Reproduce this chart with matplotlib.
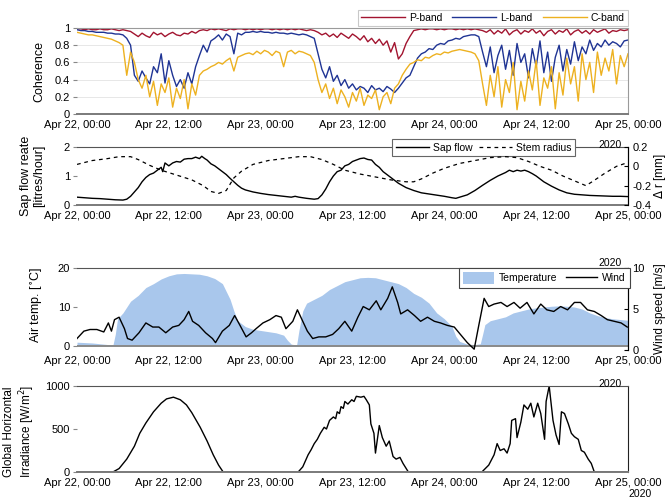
"""Coherence, sap flow, temperature/wind and irradiance, Apr 22-25 2020."""

import matplotlib
matplotlib.use("Agg")
import matplotlib.pyplot as plt
import matplotlib.dates as mdates
from matplotlib.patches import Patch
import numpy as np
import pandas as pd

plt.rcParams["font.family"] = ["Liberation Sans", "DejaVu Sans"]
plt.rcParams["font.size"] = 8

BASE = pd.Timestamp("2020-04-22 00:00")

# ─── data ───────────────────────────────────────────────────────────────────

# coherence, one value every half hour from 00:00 Apr 22 to 00:00 Apr 25
p_band = [
    0.99, 0.99, 0.98, 0.99, 0.98, 0.98, 0.99, 0.98, 0.98, 0.99, 0.98, 0.97, 0.98, 0.97, 0.96,
    0.93, 0.90, 0.94, 0.91, 0.89, 0.95, 0.92, 0.94, 0.90, 0.93, 0.95, 0.92, 0.91, 0.94, 0.93, 0.96, 0.94, 0.97,
    0.98, 0.97, 0.99, 0.98, 0.99, 0.98, 0.97, 0.99, 0.98, 0.99, 0.99, 0.98, 0.99, 0.98, 0.99,
    0.98, 0.99, 0.99, 0.98, 0.99, 0.98, 0.99, 0.98, 0.99, 0.98, 0.99, 0.98, 0.97, 0.98, 0.97,
    0.95, 0.92, 0.94, 0.90, 0.93, 0.89, 0.94, 0.91, 0.88, 0.93, 0.90, 0.86, 0.91, 0.84, 0.88,
    0.82, 0.87, 0.80, 0.85, 0.72, 0.83, 0.64, 0.70, 0.82, 0.90, 0.97,
    0.98, 0.99, 0.98, 0.99, 0.99, 0.98, 0.99, 0.98, 0.99, 0.99, 0.98, 0.99, 0.98, 0.99, 0.98, 0.99, 0.98, 0.97,
    0.95, 0.98, 0.93, 0.97, 0.94, 0.99, 0.92, 0.96, 0.98, 0.93, 0.97, 0.95, 0.99, 0.94, 0.97, 0.91, 0.96,
    0.98, 0.93, 0.97, 0.95, 0.99, 0.92, 0.96, 0.98, 0.94, 0.97, 0.93, 0.98, 0.95, 0.97, 0.99, 0.94, 0.97,
    0.96, 0.98, 0.97, 0.98,
]
l_band = [
    0.98, 0.97, 0.97, 0.96, 0.96, 0.95, 0.95, 0.95, 0.94, 0.94, 0.93, 0.93, 0.92,
    0.88, 0.80, 0.45, 0.38, 0.50, 0.42, 0.35, 0.55, 0.48, 0.70, 0.36, 0.62, 0.45, 0.32, 0.40, 0.30, 0.48,
    0.35, 0.55, 0.68, 0.80,
    0.72, 0.85, 0.88, 0.92, 0.86, 0.93, 0.90, 0.70, 0.94, 0.92, 0.95,
    0.95, 0.96, 0.95, 0.96, 0.95, 0.95, 0.94, 0.95, 0.94, 0.94, 0.93, 0.94, 0.93, 0.92, 0.93, 0.92, 0.90, 0.88,
    0.70, 0.52, 0.42, 0.55, 0.38, 0.45, 0.33, 0.40, 0.30, 0.35, 0.28, 0.32, 0.30, 0.25, 0.33, 0.28, 0.30,
    0.26, 0.32, 0.29, 0.25, 0.30, 0.36, 0.42, 0.45,
    0.55, 0.65, 0.70, 0.72, 0.76, 0.75, 0.80, 0.82, 0.81, 0.85, 0.86, 0.88, 0.87, 0.90, 0.91, 0.92, 0.92, 0.90,
    0.72, 0.55, 0.78, 0.48, 0.68, 0.80, 0.52, 0.74, 0.45, 0.82, 0.60, 0.70, 0.42, 0.76, 0.55, 0.85, 0.48,
    0.72, 0.38, 0.66, 0.80, 0.50, 0.75, 0.58, 0.84, 0.62, 0.78, 0.70, 0.86, 0.74, 0.82, 0.78, 0.86, 0.80,
    0.84, 0.82, 0.78, 0.85, 0.86,
]
c_band = [
    0.95, 0.94, 0.93, 0.92, 0.92, 0.91, 0.90, 0.89, 0.88, 0.87, 0.85, 0.83, 0.80,
    0.45, 0.72, 0.60, 0.40, 0.30, 0.45, 0.20, 0.38, 0.10, 0.35, 0.25, 0.42, 0.08, 0.30, 0.18, 0.40, 0.06,
    0.35, 0.22, 0.45, 0.50,
    0.52, 0.55, 0.57, 0.60, 0.58, 0.62, 0.65, 0.50, 0.66, 0.68, 0.70,
    0.71, 0.69, 0.73, 0.70, 0.74, 0.72, 0.68, 0.73, 0.71, 0.55, 0.72, 0.74, 0.70, 0.73, 0.72, 0.70, 0.68, 0.60,
    0.40, 0.25, 0.35, 0.18, 0.30, 0.12, 0.28, 0.20, 0.08, 0.25, 0.15, 0.30, 0.10, 0.22, 0.18, 0.28, 0.05,
    0.20, 0.25, 0.12, 0.30, 0.35, 0.45, 0.52, 0.58,
    0.60, 0.63, 0.62, 0.66, 0.65, 0.68, 0.70, 0.69, 0.72, 0.71, 0.73, 0.74, 0.75, 0.74, 0.73, 0.72, 0.70, 0.62,
    0.35, 0.10, 0.45, 0.20, 0.55, 0.08, 0.40, 0.25, 0.60, 0.05, 0.38, 0.15, 0.50, 0.28, 0.62, 0.10, 0.42,
    0.30, 0.55, 0.06, 0.48, 0.22, 0.65, 0.35, 0.55, 0.15, 0.70, 0.40, 0.60, 0.25, 0.72, 0.45, 0.65, 0.50,
    0.75, 0.35, 0.68, 0.55, 0.70,
]

# sap flow [litres/hour] and stem radius change [mm], hours since Apr 22 00:00
sap_h = [0, 1, 2, 3, 4, 5, 6, 6.5, 7, 7.5, 8, 8.5, 9, 9.5, 10, 10.5, 11, 11.2, 11.5, 12, 12.5, 13,
         13.5, 14, 14.5, 15, 15.5, 16, 16.3, 16.7, 17, 17.5, 18, 18.5, 19, 19.5, 20, 20.5, 21, 21.5,
         22, 23, 24, 25, 26, 27, 28, 28.5, 29, 30, 31, 31.5, 32, 32.5, 33, 33.5, 34, 34.5, 35, 35.5,
         36, 36.5, 37, 37.5, 38, 38.5, 39, 39.5, 40, 40.5, 41, 41.5, 42, 43, 44, 45, 46, 47, 48, 49,
         49.5, 50, 51, 52, 53, 54, 55, 56, 56.5, 57, 57.5, 58, 58.5, 59, 59.5, 60, 60.5, 61, 62, 63,
         64, 65, 66, 67, 68, 69, 70, 71, 72]
sap_flow = [0.27, 0.25, 0.23, 0.22, 0.20, 0.18, 0.17, 0.20, 0.30, 0.45, 0.60, 0.80, 0.95, 1.05, 1.10,
            1.20, 1.30, 1.15, 1.45, 1.35, 1.45, 1.50, 1.48, 1.58, 1.60, 1.60, 1.65, 1.60, 1.68, 1.60,
            1.55, 1.42, 1.35, 1.25, 1.15, 1.05, 0.92, 0.80, 0.68, 0.58, 0.52, 0.45, 0.40, 0.36, 0.33,
            0.30, 0.27, 0.30, 0.27, 0.23, 0.20, 0.22, 0.35, 0.55, 0.80, 1.00, 1.15, 1.20, 1.35, 1.40,
            1.50, 1.55, 1.60, 1.62, 1.57, 1.55, 1.40, 1.30, 1.15, 1.05, 0.95, 0.85, 0.75, 0.60, 0.50,
            0.42, 0.38, 0.34, 0.30, 0.25, 0.23, 0.27, 0.35, 0.50, 0.68, 0.85, 1.00, 1.12, 1.20, 1.15,
            1.20, 1.17, 1.20, 1.15, 1.08, 1.00, 0.90, 0.80, 0.65, 0.52, 0.42, 0.37, 0.35, 0.33, 0.32,
            0.31, 0.30, 0.30, 0.29]
stem_h = [0, 2, 4, 5.5, 7, 8, 9.5, 11, 13, 15, 16.5, 17.5, 18.5, 19.5, 20.5, 21.5, 23, 25, 27, 29,
          30.5, 32, 33.5, 35, 37, 39, 41, 43, 44, 45, 46.5, 48, 50, 52, 54, 56, 57.5, 59, 60.5, 62,
          63.5, 65, 66.5, 67.5, 69, 70.5, 72]
stem_radius = [0.02, 0.06, 0.08, 0.10, 0.10, 0.07, 0.01, -0.04, -0.09, -0.14, -0.20, -0.26, -0.28,
               -0.25, -0.12, -0.05, 0.02, 0.06, 0.08, 0.10, 0.10, 0.07, 0.02, -0.04, -0.08, -0.11,
               -0.14, -0.16, -0.16, -0.13, -0.07, -0.02, 0.03, 0.06, 0.09, 0.10, 0.09, 0.05, 0.00,
               -0.04, -0.10, -0.15, -0.20, -0.15, -0.07, 0.00, 0.04]

# air temperature [C] and wind speed [m/s]
temp_h = [0, 2, 4, 4.7, 5.0, 5.3, 6, 6.5, 7, 8, 9, 10, 11, 12, 13, 14, 15, 16, 17, 18, 19, 19.5, 20,
          20.5, 21, 22, 23, 24, 25, 26, 27, 27.5, 28, 28.7, 29, 29.5, 30, 31, 32, 33, 34, 35, 36, 37,
          38, 39, 40, 41, 42, 43, 44, 45, 46, 47, 48, 49, 49.5, 50, 51, 52, 52.7, 53, 53.3, 54, 55,
          56, 57, 58, 59, 60, 61, 62, 63, 64, 65, 66, 67, 68, 69, 70, 71, 72]
air_temp = [1.0, 0.8, 0.4, 0.3, 3.0, 7.0, 8.5, 10.0, 11.5, 13.0, 15.0, 16.0, 17.2, 18.0, 18.5, 18.6,
            18.5, 18.4, 18.0, 17.3, 16.0, 14.0, 12.0, 9.0, 6.5, 5.0, 4.3, 4.0, 3.7, 3.4, 2.8, 1.5, 0.5,
            0.3, 4.0, 9.0, 11.0, 12.0, 13.0, 14.5, 15.5, 16.5, 17.0, 17.5, 17.6, 17.5, 17.0, 16.5,
            16.0, 15.0, 13.5, 12.5, 11.0, 8.5, 7.0, 5.0, 2.5, 1.2, 0.5, 0.4, 0.6, 3.0, 5.5, 6.5, 7.0,
            7.5, 8.5, 9.0, 9.5, 9.8, 10.0, 10.2, 10.3, 10.2, 10.0, 9.5, 8.5, 7.8, 7.3, 7.0, 6.8, 6.6]
wind_h = [0.0, 0.9, 1.7, 2.6, 3.5, 4.1, 4.5, 4.9, 5.5, 6.2, 6.6, 7.2, 8.1, 9.0, 9.9, 10.7, 11.6, 12.5,
          13.3, 14.0, 14.6, 15.1, 15.9, 16.8, 17.7, 18.1, 19.0, 19.9, 20.6, 21.3, 22.1, 22.8, 23.4,
          24.3, 25.2, 26.0, 26.7, 27.3, 28.2, 28.8, 29.5, 30.1, 30.8, 31.6, 32.5, 33.4, 34.2, 35.0,
          35.9, 36.7, 37.4, 38.2, 39.1, 39.7, 40.6, 41.2, 41.9, 42.3, 43.2, 44.1, 44.9, 45.8, 46.7,
          47.5, 48.4, 49.3, 50.1, 51.0, 51.9, 52.5, 53.2, 53.8, 54.5, 55.4, 56.2, 57.1, 57.9, 58.8,
          59.7, 60.6, 61.4, 62.3, 63.2, 64.1, 65.0, 65.8, 66.7, 67.6, 68.5, 69.3, 70.2, 71.1, 71.9]
wind = [1.4, 2.3, 2.5, 2.5, 2.2, 3.3, 2.3, 3.7, 4.0, 2.6, 1.4, 1.2, 2.1, 3.3, 2.8, 2.8, 2.1, 2.8,
        3.0, 3.7, 4.7, 3.5, 3.0, 2.1, 1.4, 0.9, 2.3, 3.0, 4.2, 3.0, 1.6, 2.1, 2.6, 3.3, 3.7, 4.2,
        4.0, 2.6, 3.5, 4.9, 3.5, 2.3, 1.4, 1.6, 1.6, 1.9, 2.6, 3.5, 2.3, 4.0, 5.3, 4.9, 6.0, 4.9,
        6.3, 7.7, 5.8, 4.4, 4.9, 4.2, 3.5, 4.0, 3.5, 3.3, 3.0, 2.8, 1.9, 0.9, 0.1, 3.0, 6.3, 5.3,
        5.6, 5.8, 5.3, 5.8, 5.1, 5.8, 4.4, 5.6, 4.9, 4.7, 5.3, 4.9, 5.8, 5.8, 4.9, 4.7, 4.2, 3.7,
        3.5, 3.3, 2.8]

# global horizontal irradiance [W/m2]
ghi_h = [0, 4.7, 5.5, 6.5, 7.5, 8.2, 9, 10, 11, 11.7, 12.6, 13.5, 14.3, 15, 16.1, 17, 17.8, 18.5,
         19.1, 28.9, 29.5, 30.2, 30.6, 31, 31.4, 31.8, 32.3, 32.6, 33, 33.5, 33.8, 34, 34.3, 34.5,
         34.8, 35, 35.4, 35.9, 36.2, 36.5, 37.1, 37.5, 37.8, 38.2, 38.4, 38.8, 39.0, 39.5, 39.9,
         40.4, 40.8, 41.3, 41.7, 42.2, 42.6, 43.3, 52.9, 53.8, 54.5, 54.9, 55.3, 55.8, 56.2, 56.6,
         56.8, 57.3, 57.5, 58.0, 58.4, 58.9, 59.3, 59.7, 60.2, 60.6, 61.1, 61.3, 61.7, 62.2, 62.6,
         63.0, 63.3, 63.7, 64.2, 64.6, 65.0, 65.5, 65.9, 66.3, 66.8, 67.2, 67.6, 72]
ghi = [0, 0, 40, 150, 300, 450, 570, 700, 800, 850, 870, 840, 780, 690, 520, 360, 200, 80,
       0, 0, 60, 200, 260, 330, 380, 450, 520, 500, 600, 640, 620, 700, 680, 760,
       740, 820, 790, 840, 820, 880, 870, 880, 840, 780, 560, 450, 220, 540, 400,
       300, 360, 180, 150, 170, 100, 0, 0, 80, 200, 330, 250, 270, 220, 330,
       600, 620, 400, 580, 780, 730, 800, 640, 800, 680, 380, 820, 1000, 600, 430,
       320, 700, 680, 560, 450, 410, 380, 250, 230, 150, 100, 0, 0]


def _t(hours):
    return BASE + pd.to_timedelta(np.asarray(hours, dtype=float), unit="h")


def _style(ax, top_color="#555555"):
    ax.spines["left"].set_visible(False)
    ax.spines["top"].set_color(top_color)
    ax.spines["bottom"].set_color("#7a7a7a")
    ax.spines["bottom"].set_linewidth(1.4)
    ax.spines["right"].set_color("#222222")
    ax.set_xlim(_t([0])[0], _t([72])[0])
    ax.xaxis.set_major_locator(mdates.HourLocator(byhour=[0, 12]))
    ax.xaxis.set_major_formatter(mdates.DateFormatter("%b %d, %H:%M"))
    ax.tick_params(axis="x", length=0, pad=4, labelsize=8)
    ax.tick_params(axis="y", direction="out", length=3, color="#888888", labelsize=8, pad=2)


fig = plt.figure(figsize=(6.71, 4.99), dpi=100)
W, H = 671, 499


def _axes(top, bottom):
    return fig.add_axes([77 / W, 1 - bottom / H, 551 / W, (bottom - top) / H])


# ─── panel 1: coherence ─────────────────────────────────────────────────────
ax1 = _axes(28, 114)
t_half = _t(np.arange(len(p_band)) * 0.5)
ax1.plot(t_half, p_band, color="#a2142f", lw=1.0, label="P-band")
ax1.plot(t_half, l_band, color="#1f3494", lw=1.0, label="L-band")
ax1.plot(t_half, c_band, color="#edb120", lw=1.0, label="C-band")
ax1.set_ylim(0, 1)
ax1.set_yticks([0, 0.2, 0.4, 0.6, 0.8, 1])
ax1.set_yticklabels(["0", "0.2", "0.4", "0.6", "0.8", "1"])
ax1.grid(axis="y", color="#e3e3e3", lw=0.6)
ax1.set_axisbelow(True)
_style(ax1, top_color="#9a9a9a")
ax1.spines["right"].set_color("#9a9a9a")
ax1.set_ylabel("Coherence", fontsize=9)
ax1.yaxis.set_label_coords(-0.058, 0.5)
leg = ax1.legend(ncol=3, loc="lower right", bbox_to_anchor=(1.004, 1.0), frameon=True,
                 fancybox=False, edgecolor="#bbbbbb", fontsize=7.5, handlelength=4.2,
                 columnspacing=1.0, handletextpad=0.4, borderpad=0.3, borderaxespad=0.2)
leg.get_frame().set_linewidth(0.8)

# ─── panel 2: sap flow / stem radius ────────────────────────────────────────
ax2 = _axes(147, 205)
l1, = ax2.plot(_t(sap_h), sap_flow, color="black", lw=1.0, label="Sap flow")
ax2.set_ylim(0, 2)
ax2.set_yticks([0, 1, 2])
_style(ax2)
ax2.set_ylabel("Sap flow reate\n[litres/hour]", fontsize=9, linespacing=1.1)
ax2.yaxis.set_label_coords(-0.058, 0.5)
ax2r = ax2.twinx()
l2, = ax2r.plot(_t(stem_h), stem_radius, color="black", lw=0.9, ls=(0, (3, 3)), label="Stem radius")
ax2r.set_ylim(-0.4, 0.2)
ax2r.set_yticks([-0.4, -0.2, 0, 0.2])
ax2r.set_yticklabels(["-0.4", "-0.2", "0", "0.2"])
for s in ["left", "top", "bottom"]:
    ax2r.spines[s].set_visible(False)
ax2r.tick_params(axis="y", direction="in", length=3, labelsize=8, pad=3)
ax2r.set_ylabel(r"$\Delta$ r [mm]", fontsize=8.5)
ax2r.yaxis.set_label_coords(1.044, 0.5)
leg = ax2.legend([l1, l2], ["Sap flow", "Stem radius"], ncol=2, loc="upper right",
                 bbox_to_anchor=(0.904, 1.13), frameon=True, fancybox=False, edgecolor="#666666",
                 fontsize=7.5, handlelength=3.2, columnspacing=0.6, handletextpad=0.4,
                 borderpad=0.3, borderaxespad=0.0, framealpha=1)
leg.get_frame().set_linewidth(0.8)

# ─── panel 3: temperature / wind ────────────────────────────────────────────
ax3 = _axes(268, 350)
ax3.fill_between(_t(temp_h), 0, air_temp, color="#a9c7ec", lw=0, zorder=1)
ax3.axhline(0, color="#8a8a8a", lw=1.4, zorder=2)
ax3.set_ylim(-1, 20)
ax3.set_yticks([0, 10, 20])
_style(ax3)
ax3.spines["bottom"].set_visible(False)
ax3.set_ylabel(r"Air temp. [$^{\circ}$C]", fontsize=9)
ax3.yaxis.set_label_coords(-0.058, 0.55)
ax3r = ax3.twinx()
ax3r.plot(_t(wind_h), wind, color="black", lw=1.0, zorder=3)
ax3r.set_ylim(0, 10)
ax3r.set_yticks([0, 5, 10])
for s in ["left", "top", "bottom"]:
    ax3r.spines[s].set_visible(False)
ax3r.tick_params(axis="y", direction="in", length=3, labelsize=8, pad=3)
ax3r.set_ylabel("Wind speed [m/s]", fontsize=8.5)
ax3r.yaxis.set_label_coords(1.048, 0.5)
handles = [Patch(facecolor="#a9c7ec", edgecolor="none"),
           plt.Line2D([], [], color="black", lw=1.0)]
leg = ax3r.legend(handles, ["Temperature", "Wind"], ncol=2, loc="upper right",
                  bbox_to_anchor=(1.003, 1.0), frameon=True, fancybox=False, edgecolor="#444444",
                  fontsize=7.5, handlelength=3.0, handleheight=1.5, columnspacing=0.8,
                  handletextpad=0.5, borderpad=0.35, borderaxespad=0.0, framealpha=1)
leg.get_frame().set_linewidth(0.8)

# ─── panel 4: irradiance ────────────────────────────────────────────────────
ax4 = _axes(386, 472)
ax4.plot(_t(ghi_h), ghi, color="black", lw=1.0)
ax4.set_ylim(0, 1000)
ax4.set_yticks([0, 500, 1000])
_style(ax4)
ax4.spines["right"].set_visible(True)
ax4.set_ylabel("Global Horizontal\n" + r"Irradiance [W/m$^2$]", fontsize=8.5, linespacing=1.2)
ax4.yaxis.set_label_coords(-0.072, 0.47)

# year offset labels
for y in [145, 263, 384]:
    fig.text(622 / W, 1 - y / H, "2020", ha="right", va="center", fontsize=7.5)
fig.text(640 / W, 1 - 494 / H, "2020", ha="center", va="center", fontsize=7.5)

fig.savefig("out.png", dpi=100)
